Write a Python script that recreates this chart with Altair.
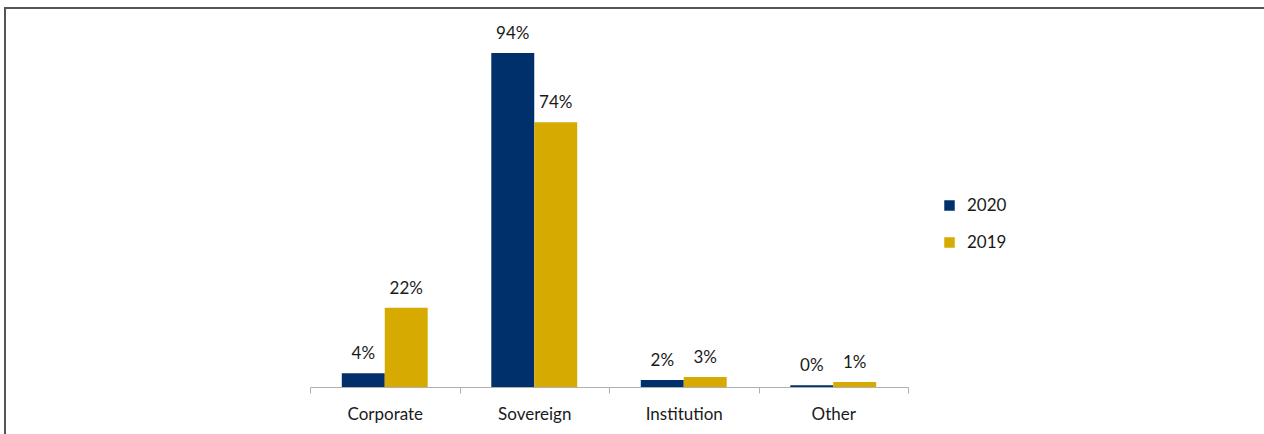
import altair as alt
import pandas as pd

categories = ["Corporate", "Sovereign", "Institution", "Other"]
years = ["2020", "2019"]
bar_2020 = [3.9, 94.1, 2.0, 0.5]
bar_2019 = [22.3, 74.6, 2.8, 1.4]
label_2020 = [4, 94, 2, 0]
label_2019 = [22, 74, 3, 1]
colors = ["#00306B", "#D6AA00"]

rows = []
for i, c in enumerate(categories):
    rows.append({"category": c, "year": "2020", "value": bar_2020[i], "label": f"{label_2020[i]}%"})
    rows.append({"category": c, "year": "2019", "value": bar_2019[i], "label": f"{label_2019[i]}%"})
df = pd.DataFrame(rows)

FONT = "Lato"
FS = 17

x = alt.X("category:N", sort=categories, title=None,
          scale=alt.Scale(paddingInner=0, paddingOuter=0),
          axis=alt.Axis(labelAngle=0, labelFontSize=FS, labelFont=FONT, labelColor="#1a1a1a",
                        domainColor="#B0B0B0", tickColor="#B0B0B0", tickSize=6,
                        tickBand="extent", labelPadding=13))
xo = alt.XOffset("year:N", sort=years, scale=alt.Scale(paddingInner=0, paddingOuter=0.74))
y = alt.Y("value:Q", scale=alt.Scale(domain=[0, 100]), axis=None)

bars = alt.Chart(df).mark_bar().encode(
    x=x, xOffset=xo, y=y,
    color=alt.Color("year:N", sort=years, scale=alt.Scale(domain=years, range=colors),
                    legend=alt.Legend(title=None, orient="none", legendX=631, legendY=165,
                                      symbolType="square", symbolSize=110, symbolStrokeWidth=0,
                                      labelFontSize=FS, labelFont=FONT, labelColor="#1a1a1a",
                                      labelOffset=9, rowPadding=19, padding=0)),
)

text = alt.Chart(df).mark_text(dy=-19, fontSize=FS, font=FONT, color="#1a1a1a").encode(
    x=x, xOffset=xo, y=y, text="label:N"
)

frame = alt.Chart(pd.DataFrame({"a": [0]})).mark_rect(
    fill=None, stroke="#555555", strokeWidth=2, clip=False
).encode(
    x=alt.value(-305), x2=alt.value(1000), y=alt.value(-24), y2=alt.value(450)
)

chart = alt.layer(frame, bars, text).properties(
    width=598, height=355,
    autosize=alt.AutoSizeParams(type="none"),
    padding={"left": 310, "top": 32, "right": 356, "bottom": 47},
).configure(background="white").configure_view(strokeWidth=0, stroke="transparent")

chart.save("out.html", embed_options={"renderer": "svg", "actions": False})
